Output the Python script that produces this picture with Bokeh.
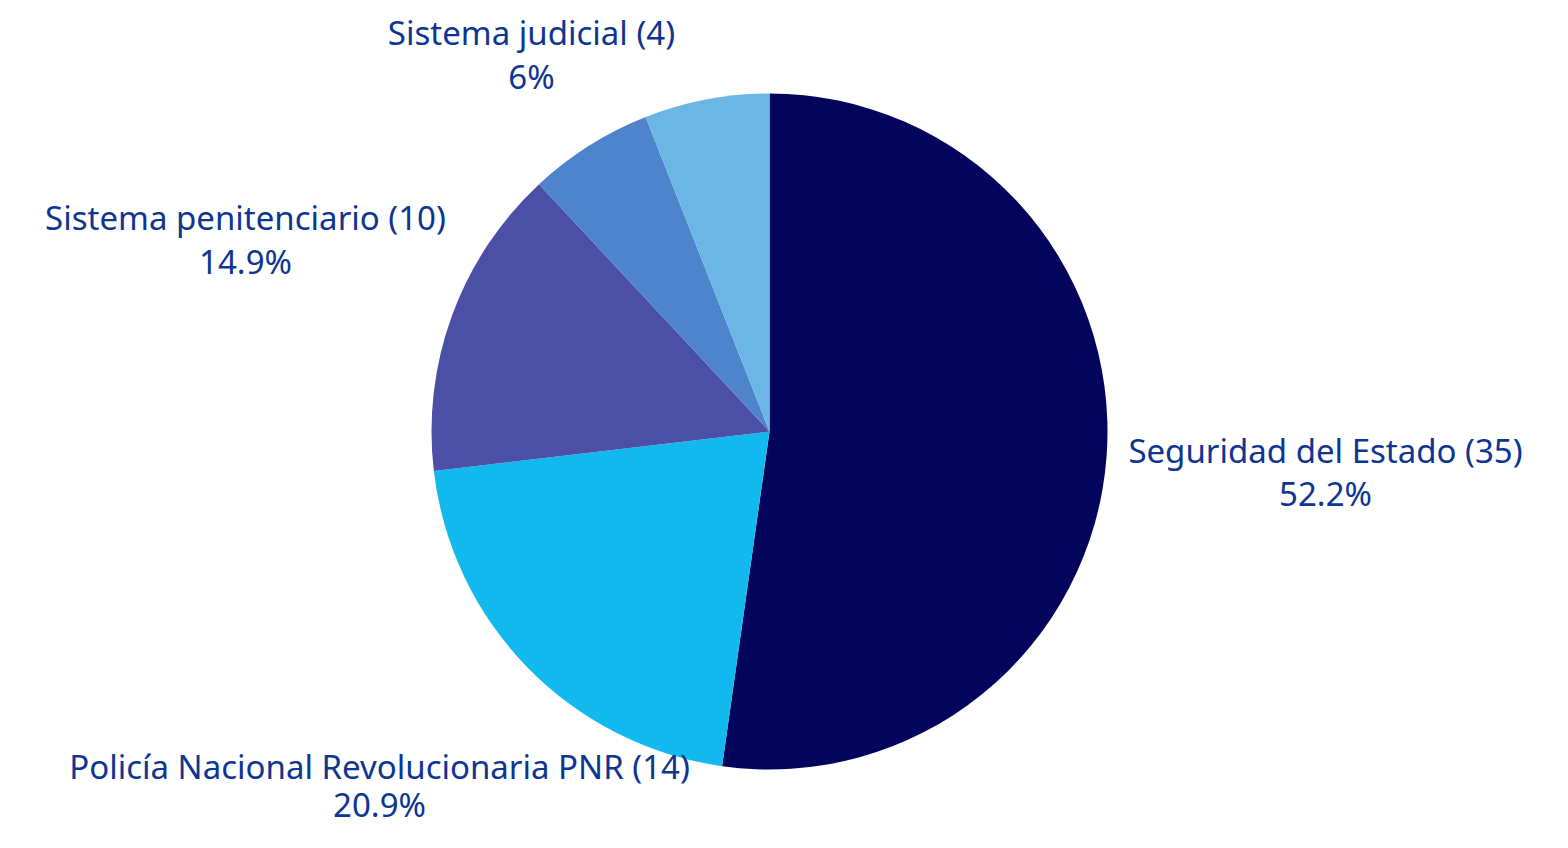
import math
from bokeh.plotting import figure
from bokeh.models import Range1d, ColumnDataSource
from bokeh.core.properties import value
from bokeh.embed import file_html
from bokeh.resources import INLINE

# ---- data ----
categories = ["Seguridad del Estado", "Policía Nacional Revolucionaria PNR",
              "Sistema penitenciario", "Otros", "Sistema judicial"]
counts = [35, 14, 10, 4, 4]
show_label = [True, True, True, False, True]
colors = ["#03045b", "#12b9ee", "#4b4fa6", "#4e84cb", "#6cb6e6"]

# ---- layout ----
W, H = 1552, 832
cx, cy_top, R = 769, 431, 338
# label anchors (x center, y of first line from top), and gap to second line
label_pos = [(1325, 450, 43), (379, 766, 38), (245, 217, 44), None, (531, 32, 44)]
font = "Noto Sans"
font_size = "33px"
text_color = "#0d3591"

total = sum(counts)
starts, ends = [], []
cum = 0
for c in counts:
    a0 = cum / total
    cum += c
    a1 = cum / total
    starts.append(math.pi / 2 - a1 * 2 * math.pi)
    ends.append(math.pi / 2 - a0 * 2 * math.pi)

src = ColumnDataSource(dict(start=starts, end=ends, color=colors,
                            x=[cx] * len(counts), y=[H - cy_top] * len(counts)))

p = figure(width=W, height=H, output_backend="svg", toolbar_location=None,
           x_range=Range1d(0, W), y_range=Range1d(0, H), min_border=0)
p.axis.visible = False
p.grid.visible = False
p.outline_line_color = None
p.background_fill_color = "white"
p.border_fill_color = "white"

p.wedge(x="x", y="y", radius=R, start_angle="start", end_angle="end",
        color="color", line_color=None, source=src)

lx, ly1, ly2, t1, t2 = [], [], [], [], []
for cat, c, show, pos in zip(categories, counts, show_label, label_pos):
    if not show or pos is None:
        continue
    pct = round(100 * c / total, 1)
    lx.append(pos[0])
    ly1.append(H - pos[1])
    ly2.append(H - pos[1] - pos[2])
    t1.append(f"{cat} ({c})")
    t2.append(f"{pct:g}%")

for ys, ts in ((ly1, t1), (ly2, t2)):
    p.text(x=lx, y=ys, text=ts, text_align="center", text_baseline="middle",
           text_font=value(font), text_font_size=font_size, text_color=text_color)

open("out.html", "w").write(file_html(p, INLINE))
